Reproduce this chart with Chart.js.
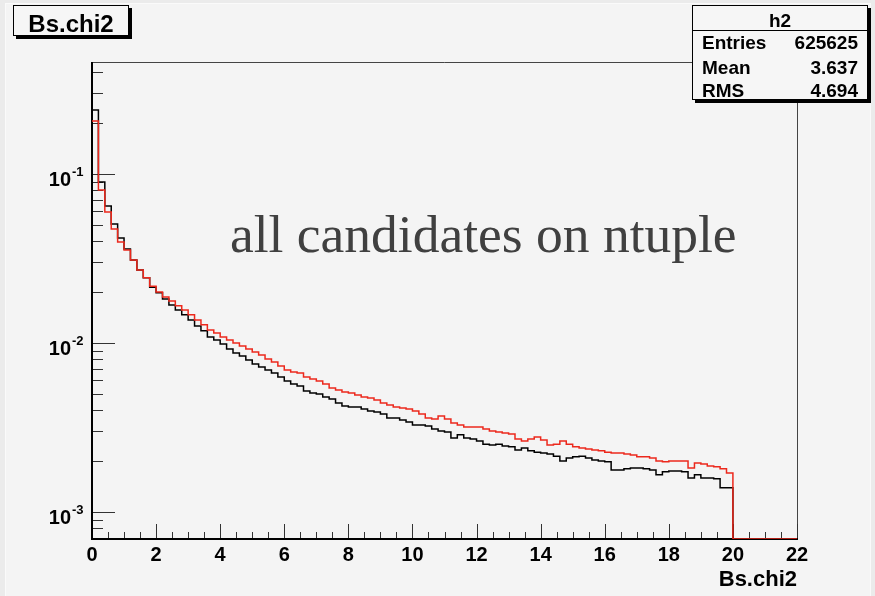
<!DOCTYPE html>
<html>
<head>
<meta charset="utf-8">
<script src="https://cdn.jsdelivr.net/npm/chart.js@4.4.1/dist/chart.umd.min.js"></script>
<style>
html,body{margin:0;padding:0;overflow:hidden;background:#f4f4f4;}
#wrap{position:relative;width:875px;height:596px;}
#c{position:absolute;left:0;top:0;}
.box{position:absolute;box-sizing:border-box;border:1px solid #000;background:#f6f6f6;box-shadow:3px 3px 0 #000;font-family:"Liberation Sans",Arial,sans-serif;font-weight:bold;color:#000;}
.t{position:absolute;white-space:nowrap;}
#note{position:absolute;left:230px;top:208px;font-family:"Liberation Serif","Times New Roman",serif;font-size:53.5px;line-height:53.5px;color:#404040;white-space:nowrap;}
</style>
</head>
<body>
<div id="wrap">
  <canvas id="c" width="875" height="596"></canvas>
  <div class="box" style="left:13px;top:5px;width:116px;height:31px;">
    <div class="t" style="left:0;width:100%;text-align:center;top:5.7px;font-size:24px;line-height:24px;">Bs.chi2</div>
  </div>
  <div class="box" style="left:692px;top:5px;width:176px;height:95px;">
    <div class="t" style="left:0;width:100%;text-align:center;top:4.9px;font-size:19px;line-height:19px;">h2</div>
    <div style="position:absolute;left:0;right:0;top:24px;border-top:1px solid #000;"></div>
    <div class="t" style="left:9px;top:26.9px;font-size:19px;line-height:19px;">Entries</div>
    <div class="t" style="right:9px;top:26.9px;font-size:19px;line-height:19px;">625625</div>
    <div class="t" style="left:9px;top:51.9px;font-size:19px;line-height:19px;">Mean</div>
    <div class="t" style="right:9px;top:51.9px;font-size:19px;line-height:19px;">3.637</div>
    <div class="t" style="left:9px;top:74.9px;font-size:19px;line-height:19px;">RMS</div>
    <div class="t" style="right:9px;top:74.9px;font-size:19px;line-height:19px;">4.694</div>
  </div>
  <div id="note">all candidates on ntuple</div>
</div>
<script>
// ---- data (bin width 0.2, range 0..22) ----
const BIN_W = 0.2;
const X_MIN = 0, X_MAX = 22;
const Y_MIN = 6.92e-4, Y_MAX = 0.46;

const blackValues = [
0.239,0.0897,0.0647,0.0506,0.0418,0.0360,0.0310,0.0270,0.0243,0.0214,
0.0198,0.0182,0.0168,0.0157,0.0147,0.0137,0.0126,0.0118,0.01086,0.01042,
0.00986,0.00921,0.00873,0.00838,0.00793,0.00751,0.00721,0.00692,0.00664,0.00629,
0.00596,0.00572,0.00557,0.00520,0.00506,0.00499,0.00479,0.00466,0.00442,0.00424,
0.00418,0.00418,0.00407,0.00396,0.00391,0.00380,0.00360,0.00360,0.00350,0.00341,
0.00327,0.00327,0.00323,0.00310,0.00301,0.00297,0.00274,0.00286,0.00274,0.00270,
0.00263,0.00252,0.00249,0.00252,0.00246,0.00243,0.00233,0.00239,0.00230,0.00226,
0.00223,0.00220,0.00214,0.00200,0.00209,0.00212,0.00214,0.00209,0.00203,0.00200,
0.00198,0.00177,0.00177,0.00180,0.00182,0.00182,0.00180,0.00177,0.00166,0.00173,
0.00175,0.00175,0.00173,0.00159,0.00166,0.00159,0.00159,0.00157,0.00139,0.00139,
0,0,0,0,0,0,0,0,0,0];

const redValues = [
0.206,0.0804,0.0596,0.0473,0.0396,0.0355,0.0310,0.0270,0.0243,0.0217,
0.0200,0.0187,0.0177,0.0166,0.0157,0.0147,0.0137,0.0128,0.01194,0.01146,
0.01086,0.01042,0.0100,0.00960,0.00921,0.00885,0.00849,0.00804,0.00772,0.00731,
0.00692,0.00673,0.00664,0.00629,0.00612,0.00596,0.00572,0.00542,0.00527,0.00513,
0.00506,0.00492,0.00479,0.00473,0.00460,0.00442,0.00430,0.00418,0.00412,0.00407,
0.00396,0.00380,0.00360,0.00355,0.00370,0.00355,0.00336,0.00327,0.00318,0.00318,
0.00318,0.00310,0.00301,0.00297,0.00293,0.00289,0.00270,0.00263,0.00270,0.00278,
0.00267,0.00249,0.00252,0.00263,0.00252,0.00243,0.00239,0.00236,0.00233,0.00230,
0.00226,0.00223,0.00223,0.00220,0.00217,0.00212,0.00212,0.00209,0.00200,0.00198,
0.00200,0.00200,0.00200,0.00182,0.00195,0.00192,0.00187,0.00185,0.00180,0.00170,
0,0,0,0,0,0,0,0,0,0];

const xTickValues = [0,2,4,6,8,10,12,14,16,18,20,22];
const yDecades = [0.1, 0.01, 0.001];
const yDecadeExp = ['-1','-2','-3'];

// histogram outline points (empty bins sit on the axis bottom, as ROOT draws them)
function histPoints(vals){
  const pts = [];
  vals.forEach((v,i)=>{
    const y = v > 0 ? v : Y_MIN;
    pts.push({x:i*BIN_W, y:y}, {x:(i+1)*BIN_W, y:y});
  });
  return pts;
}

const FONT = "'Liberation Sans', Arial, sans-serif";

const bgPlugin = {
  id:'bg',
  beforeDraw(chart){
    const ctx = chart.ctx;
    ctx.save();
    ctx.fillStyle = '#ebebeb';
    ctx.fillRect(0,0,chart.width,chart.height);
    ctx.fillStyle = '#fafafa';
    ctx.fillRect(5,3,866,593);
    ctx.fillStyle = '#f4f4f4';
    ctx.fillRect(6,4,864,592);
    ctx.restore();
  }
};

const axesPlugin = {
  id:'rootAxes',
  beforeDatasetsDraw(chart){
    const ctx = chart.ctx;
    const xs = chart.scales.x, ys = chart.scales.y;
    const a = chart.chartArea;
    ctx.save();
    // frame top & right
    ctx.strokeStyle = '#444';
    ctx.lineWidth = 1;
    ctx.beginPath();
    ctx.moveTo(a.left, a.top+0.5); ctx.lineTo(a.right+0.5, a.top+0.5);
    ctx.moveTo(a.right+0.5, a.top); ctx.lineTo(a.right+0.5, a.bottom);
    ctx.stroke();
    // y ticks (inside)
    ctx.strokeStyle = '#333';
    ctx.beginPath();
    for (let d=-4; d<=0; d++){
      for (let m=1; m<=9; m++){
        const v = m*Math.pow(10,d);
        if (v < Y_MIN || v > Y_MAX) continue;
        const py = Math.round(ys.getPixelForValue(v))+0.5;
        const len = (m===1) ? 23 : 11;
        ctx.moveTo(a.left, py); ctx.lineTo(a.left+len, py);
      }
    }
    ctx.stroke();
    // x ticks (inside, pointing up)
    ctx.beginPath();
    for (let v=X_MIN; v<=X_MAX+1e-9; v+=0.5){
      const px = Math.round(xs.getPixelForValue(v))+0.5;
      const len = (Math.abs(v/2 - Math.round(v/2))<1e-9) ? 15 : 7;
      ctx.moveTo(px, a.bottom); ctx.lineTo(px, a.bottom-len);
    }
    ctx.stroke();
    // axis lines
    ctx.strokeStyle = '#000';
    ctx.lineWidth = 2;
    ctx.beginPath();
    ctx.moveTo(a.left, a.top); ctx.lineTo(a.left, a.bottom+1);
    ctx.moveTo(a.left-1, a.bottom); ctx.lineTo(a.right+1, a.bottom);
    ctx.stroke();
    // y decade labels with superscripts
    ctx.fillStyle = '#000';
    yDecades.forEach((v,i)=>{
      const py = ys.getPixelForValue(v);
      ctx.font = 'bold 20px ' + FONT;
      ctx.textAlign = 'right';
      ctx.textBaseline = 'alphabetic';
      ctx.fillText('10', 71, py+12.5);
      ctx.font = 'bold 13px ' + FONT;
      ctx.textAlign = 'left';
      ctx.fillText(yDecadeExp[i], 72, py+2.5);
    });
    ctx.restore();
  }
};

Chart.defaults.font.family = FONT;

new Chart(document.getElementById('c'), {
  type:'line',
  data:{
    datasets:[
      {label:'red', data:histPoints(redValues), borderColor:'rgb(236,40,28)', borderWidth:1.5,
       pointRadius:0, fill:false, tension:0},
      {label:'black', data:histPoints(blackValues), borderColor:'#000', borderWidth:1.5,
       pointRadius:0, fill:false, tension:0}
    ]
  },
  options:{
    responsive:false,
    animation:false,
    devicePixelRatio:1,
    events:[],
    layout:{padding:{left:92, right:78, top:62, bottom:0}},
    plugins:{legend:{display:false}, tooltip:{enabled:false}},
    scales:{
      x:{
        type:'linear', min:X_MIN, max:X_MAX,
        grid:{display:false, drawTicks:false},
        border:{display:false},
        afterBuildTicks(scale){ scale.ticks = xTickValues.map(v=>({value:v})); },
        afterFit(scale){ scale.height = 57; },
        ticks:{padding:4, color:'#000', font:{size:20, weight:'bold'}, maxRotation:0, autoSkip:false,
               callback:(v)=>String(v)},
        title:{display:true, text:'Bs.chi2', align:'end', color:'#000',
               font:{size:22, weight:'bold'}, padding:{top:0, bottom:3}}
      },
      y:{
        type:'logarithmic', min:Y_MIN, max:Y_MAX, display:false
      }
    }
  },
  plugins:[bgPlugin, axesPlugin]
});
</script>
</body>
</html>
